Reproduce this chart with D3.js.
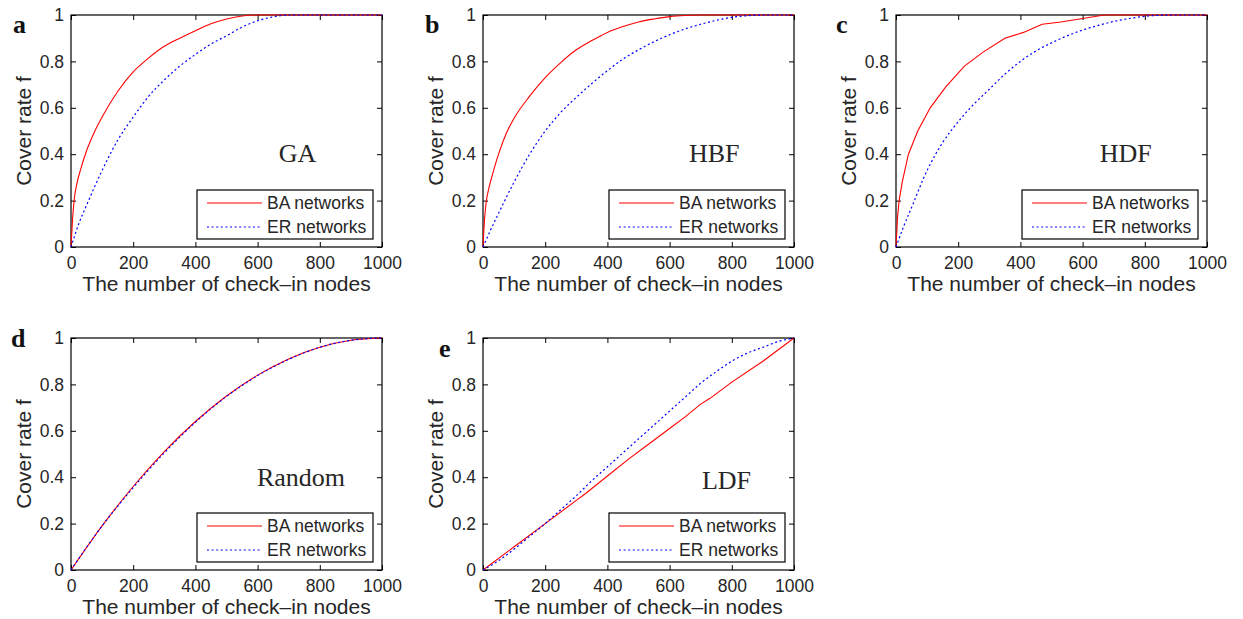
<!DOCTYPE html>
<html>
<head>
<meta charset="utf-8">
<script src="https://cdn.jsdelivr.net/npm/d3@7"></script>
<style>
  html, body { margin: 0; padding: 0; background: #fff; }
  svg { display: block; }
</style>
</head>
<body>
<svg id="fig" width="1243" height="619"></svg>
<script>
// Shared axis ticks
const xTicks = [0, 200, 400, 600, 800, 1000];
const yTicks = [0, 0.2, 0.4, 0.6, 0.8, 1];
const seriesNames = ["BA networks", "ER networks"];

// Cover rate f versus the number of check-in nodes, [nodes, f]
const gaBA = [[0,0],[5,0.12],[10,0.2],[20,0.28],[30,0.33],[50,0.415],[75,0.495],[100,0.56],[150,0.67],[200,0.755],[250,0.815],[300,0.865],[350,0.9],[400,0.932],[450,0.962],[500,0.983],[550,0.996],[600,1],[1000,1]];
const gaER = [[0,0],[25,0.1],[50,0.18],[100,0.33],[150,0.46],[200,0.56],[250,0.65],[300,0.72],[350,0.78],[400,0.83],[450,0.875],[500,0.91],[550,0.948],[600,0.975],[650,0.992],[700,1],[1000,1]];

const hbfBA = [[0,0],[5,0.12],[10,0.19],[20,0.26],[30,0.31],[50,0.4],[75,0.49],[100,0.555],[150,0.65],[200,0.73],[250,0.795],[300,0.85],[350,0.89],[400,0.925],[450,0.95],[500,0.97],[550,0.983],[600,0.993],[650,0.998],[700,1],[1000,1]];
const hbfER = [[0,0],[25,0.075],[50,0.145],[100,0.28],[150,0.4],[200,0.5],[250,0.58],[300,0.645],[350,0.705],[400,0.76],[450,0.81],[500,0.85],[550,0.885],[600,0.915],[650,0.94],[700,0.96],[750,0.977],[800,0.99],[850,0.997],[900,1],[1000,1]];

const hdfBA = [[0,0],[5,0.13],[10,0.2],[20,0.28],[40,0.4],[70,0.5],[110,0.6],[160,0.69],[220,0.78],[280,0.84],[350,0.9],[410,0.925],[470,0.96],[530,0.97],[600,0.985],[670,1],[1000,1]];
const hdfER = [[0,0],[25,0.09],[50,0.17],[100,0.33],[150,0.45],[200,0.54],[250,0.615],[300,0.68],[350,0.745],[400,0.8],[450,0.845],[500,0.88],[550,0.91],[600,0.935],[650,0.955],[700,0.972],[750,0.985],[800,0.994],[850,0.999],[900,1],[1000,1]];

const randomBA = [[0,0],[100,0.19],[200,0.36],[300,0.51],[400,0.64],[500,0.75],[600,0.84],[700,0.91],[800,0.96],[900,0.99],[1000,1]];
const randomER = [[0,0],[100,0.19],[200,0.355],[300,0.505],[400,0.637],[500,0.748],[600,0.838],[700,0.908],[800,0.96],[900,0.99],[1000,1]];

const ldfBA = [[0,0],[100,0.1],[200,0.2],[300,0.3],[330,0.33],[400,0.405],[470,0.48],[530,0.54],[600,0.61],[650,0.66],[700,0.715],[730,0.74],[800,0.81],[900,0.9],[1000,1]];
const ldfER = [[0,0],[50,0.04],[100,0.09],[150,0.145],[200,0.2],[250,0.26],[300,0.32],[350,0.385],[400,0.445],[450,0.505],[500,0.565],[550,0.625],[600,0.685],[650,0.745],[700,0.805],[750,0.855],[800,0.9],[850,0.935],[900,0.96],[950,0.985],[1000,1]];

const panelLetters = ["a", "b", "c", "d", "e"];
const methodNames = ["GA", "HBF", "HDF", "Random", "LDF"];
const baSeries = [gaBA, hbfBA, hdfBA, randomBA, ldfBA];
const erSeries = [gaER, hbfER, hdfER, randomER, ldfER];
// HDF and LDF runs on BA networks have visible corners, so they are drawn straight
const baSmooth = [true, true, false, true, false];

// Where each axes box sits on the page, and where its method name goes (in data units)
const boxes = [
  { left: 71,  top: 15,  letterX: 13,  letterY: 33,  nameX: 668, nameY: 0.365 },
  { left: 483, top: 15,  letterX: 425, letterY: 33,  nameX: 662, nameY: 0.365 },
  { left: 896, top: 15,  letterX: 836, letterY: 33,  nameX: 655, nameY: 0.365 },
  { left: 71,  top: 338, letterX: 11,  letterY: 347, nameX: 598, nameY: 0.362 },
  { left: 483, top: 338, letterX: 439, letterY: 357, nameX: 704, nameY: 0.35 }
];
const W = 311, H = 232;

const sans = "'Liberation Sans', Arial, Helvetica, sans-serif";
const serif = "'Liberation Serif', 'Times New Roman', serif";
const textColor = "#262626";

const svg = d3.select("#fig");

const x = d3.scaleLinear().domain([0, 1000]).range([0, W]);
const y = d3.scaleLinear().domain([0, 1]).range([H, 0]);
const smoothLine = d3.line().x(d => x(d[0])).y(d => y(d[1])).curve(d3.curveMonotoneX);
const straightLine = d3.line().x(d => x(d[0])).y(d => y(d[1]));

panelLetters.forEach((letter, i) => {
  const b = boxes[i];
  const g = svg.append("g").attr("transform", `translate(${b.left},${b.top})`);

  // Inward ticks on all four sides, labels on bottom and left only
  const styleAxis = sel => {
    sel.select(".domain").remove();
    sel.selectAll(".tick line").attr("stroke", "#000");
    sel.selectAll(".tick text")
      .attr("fill", textColor)
      .style("font-family", sans)
      .style("font-size", "17.5px");
  };
  g.append("g").attr("transform", `translate(0,${H})`)
    .call(d3.axisBottom(x).tickValues(xTicks).tickSize(-5).tickPadding(10).tickFormat(d3.format("d")))
    .call(styleAxis);
  g.append("g")
    .call(d3.axisTop(x).tickValues(xTicks).tickSize(-5).tickFormat(""))
    .call(styleAxis);
  g.append("g")
    .call(d3.axisLeft(y).tickValues(yTicks).tickSize(-5).tickPadding(7).tickFormat(d3.format("~g")))
    .call(styleAxis);
  g.append("g").attr("transform", `translate(${W},0)`)
    .call(d3.axisRight(y).tickValues(yTicks).tickSize(-5).tickFormat(""))
    .call(styleAxis);

  g.append("rect")
    .attr("width", W).attr("height", H)
    .attr("fill", "none").attr("stroke", "#000").attr("stroke-width", 1.2);

  // Curves: BA solid red, ER dotted blue on top
  g.append("path").datum(baSeries[i])
    .attr("d", baSmooth[i] ? smoothLine : straightLine).attr("fill", "none")
    .attr("stroke", "#ff0000").attr("stroke-width", 1.1);
  g.append("path").datum(erSeries[i])
    .attr("d", smoothLine).attr("fill", "none")
    .attr("stroke", "#0000ff").attr("stroke-width", 1.2)
    .attr("stroke-dasharray", "2,2.6");

  // Method name
  g.append("text")
    .attr("x", x(b.nameX)).attr("y", y(b.nameY))
    .attr("fill", textColor)
    .style("font-family", serif).style("font-size", "26px")
    .text(methodNames[i]);

  // Legend
  const lw = 176, lh = 49;
  const lg = g.append("g").attr("transform", `translate(${W - 9 - lw},${H - 8 - lh})`);
  lg.append("rect").attr("width", lw).attr("height", lh)
    .attr("fill", "#fff").attr("stroke", "#000").attr("stroke-width", 1.2);
  seriesNames.forEach((name, k) => {
    const cy = 13 + k * 24;
    lg.append("line")
      .attr("x1", 10).attr("x2", 65).attr("y1", cy).attr("y2", cy)
      .attr("stroke", k === 0 ? "#ff0000" : "#0000ff").attr("stroke-width", k === 0 ? 1.1 : 1.2)
      .attr("stroke-dasharray", k === 0 ? null : "2,2.6");
    lg.append("text")
      .attr("x", 70).attr("y", cy).attr("dy", "0.35em")
      .attr("fill", textColor)
      .style("font-family", sans).style("font-size", "17.5px")
      .text(name);
  });

  // Axis titles
  g.append("text")
    .attr("x", W / 2).attr("y", H + 44)
    .attr("text-anchor", "middle").attr("fill", textColor)
    .style("font-family", sans).style("font-size", "21px")
    .text("The number of check\u2013in nodes");
  g.append("text")
    .attr("transform", `translate(${-40},${H / 2}) rotate(-90)`)
    .attr("text-anchor", "middle").attr("fill", textColor)
    .style("font-family", sans).style("font-size", "21px")
    .text("Cover rate f");

  // Panel letter
  svg.append("text")
    .attr("x", b.letterX).attr("y", b.letterY)
    .attr("fill", "#111")
    .style("font-family", serif).style("font-size", "26px").style("font-weight", "bold")
    .text(letter);
});
</script>
</body>
</html>
